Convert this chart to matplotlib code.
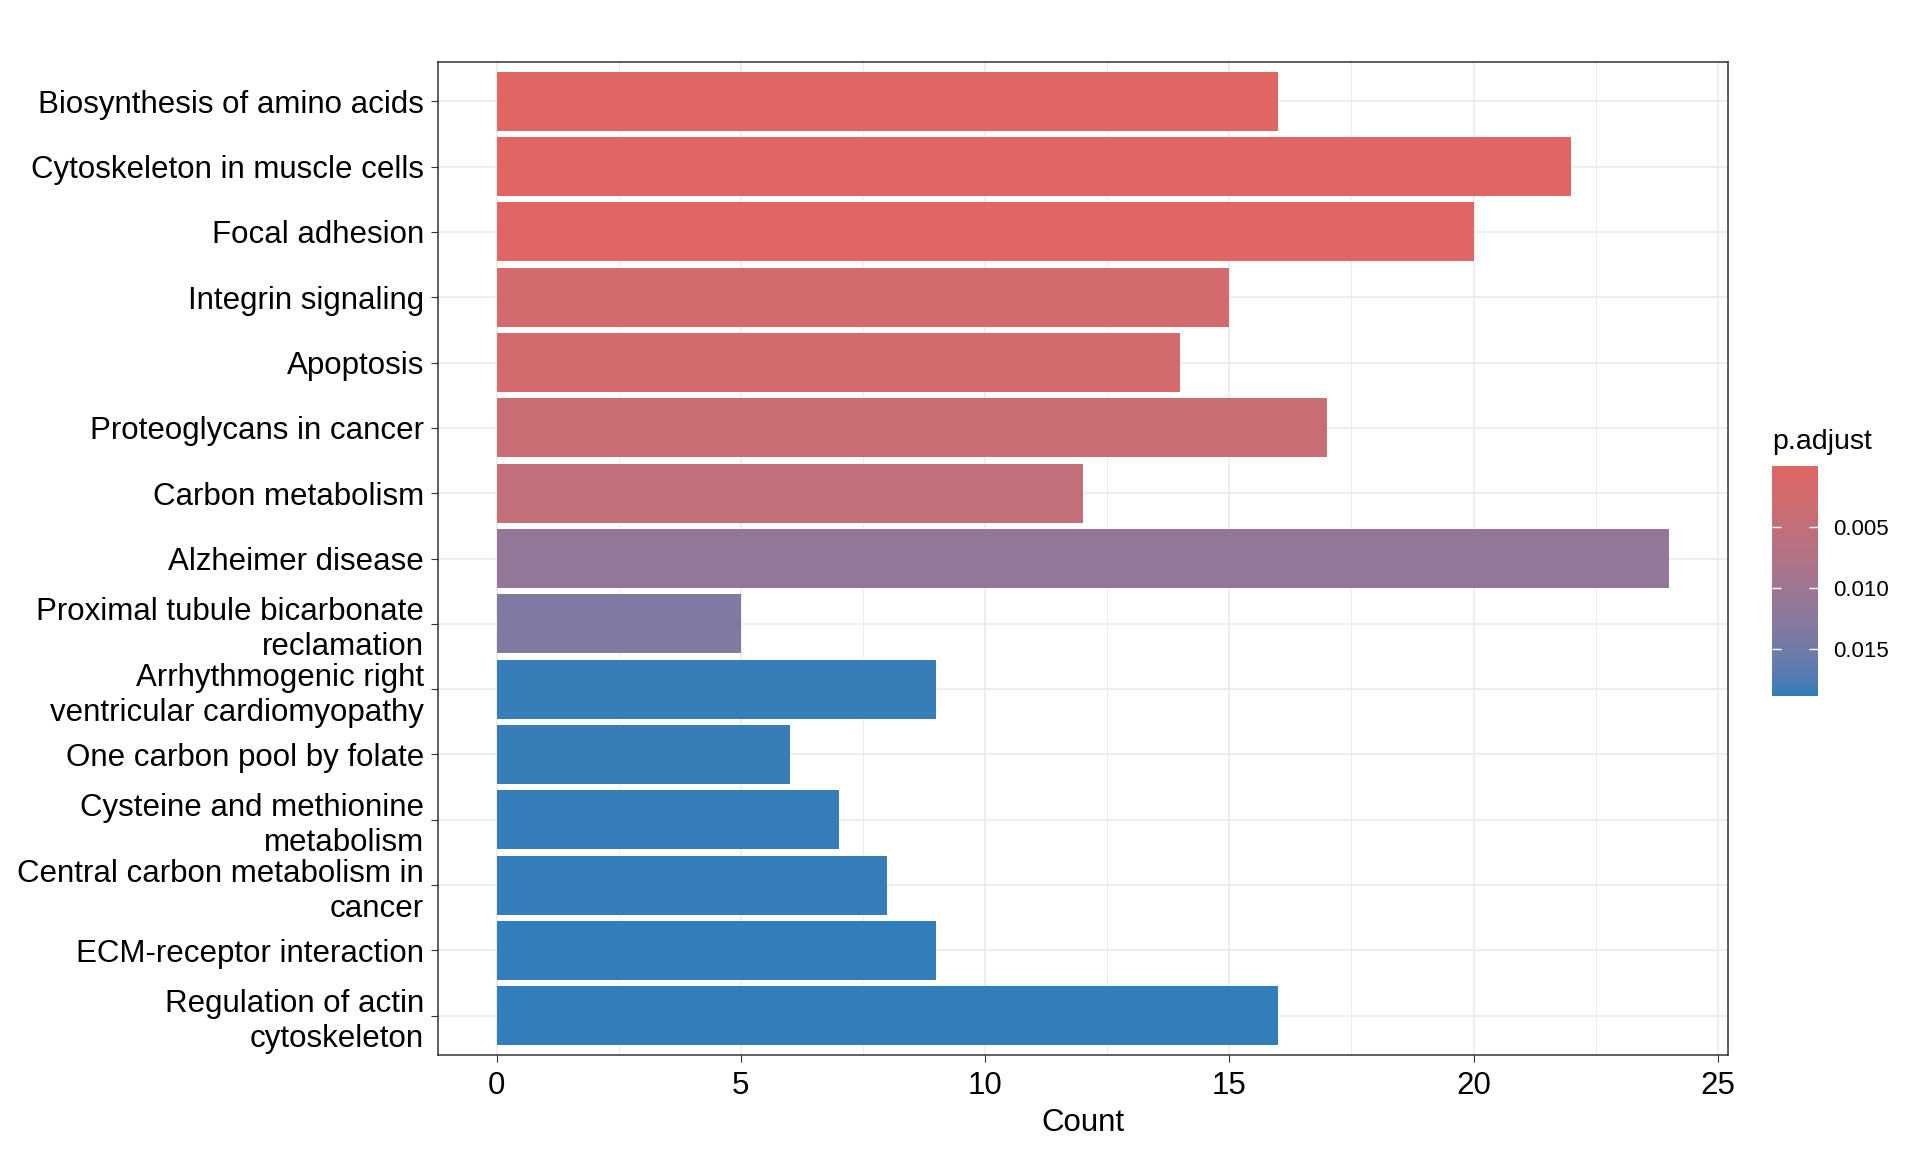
import numpy as np
import matplotlib
matplotlib.use("Agg")
import matplotlib.pyplot as plt

plt.rcParams['font.family'] = ['Liberation Sans', 'DejaVu Sans']

# ---------------- data (top to bottom) ----------------
terms = [
    "Biosynthesis of amino acids",
    "Cytoskeleton in muscle cells",
    "Focal adhesion",
    "Integrin signaling",
    "Apoptosis",
    "Proteoglycans in cancer",
    "Carbon metabolism",
    "Alzheimer disease",
    "Proximal tubule bicarbonate\nreclamation",
    "Arrhythmogenic right\nventricular cardiomyopathy",
    "One carbon pool by folate",
    "Cysteine and methionine\nmetabolism",
    "Central carbon metabolism in\ncancer",
    "ECM-receptor interaction",
    "Regulation of actin\ncytoskeleton",
]
counts = [16, 22, 20, 15, 14, 17, 12, 24, 5, 9, 6, 7, 8, 9, 16]
p_adjust = [0.00002, 0.00009, 0.00015, 0.0022, 0.0023, 0.0038, 0.0050,
            0.0114, 0.0134, 0.0186, 0.0186, 0.0187, 0.0187, 0.0188, 0.0188]
x_ticks = [0, 5, 10, 15, 20, 25]
x_minor = [2.5, 7.5, 12.5, 17.5, 22.5]
cbar_ticks = [0.005, 0.010, 0.015]
low_col = "#e06663"
high_col = "#327eba"

# ---------------- Lab gradient (like ggplot2) ----------------
M = np.array([[0.4124, 0.3576, 0.1805],
              [0.2126, 0.7152, 0.0722],
              [0.0193, 0.1192, 0.9505]])
Minv = np.linalg.inv(M)
WHITE = np.array([0.95047, 1.0, 1.08883])

def hex2rgb(h):
    h = h.lstrip('#')
    return np.array([int(h[i:i + 2], 16) / 255 for i in (0, 2, 4)])

def rgb2lab(rgb):
    lin = np.where(rgb <= 0.04045, rgb / 12.92, ((rgb + 0.055) / 1.055) ** 2.4)
    xyz = M @ lin / WHITE
    d = 6 / 29
    f = np.where(xyz > d ** 3, np.cbrt(xyz), xyz / (3 * d * d) + 4 / 29)
    return np.array([116 * f[1] - 16, 500 * (f[0] - f[1]), 200 * (f[1] - f[2])])

def lab2rgb(lab):
    L, a, b = lab
    fy = (L + 16) / 116
    fx = fy + a / 500
    fz = fy - b / 200
    d = 6 / 29
    f = np.array([fx, fy, fz])
    xyz = np.where(f > d, f ** 3, 3 * d * d * (f - 4 / 29)) * WHITE
    lin = Minv @ xyz
    lin = np.clip(lin, 0, 1)
    rgb = np.where(lin <= 0.0031308, 12.92 * lin, 1.055 * lin ** (1 / 2.4) - 0.055)
    return np.clip(rgb, 0, 1)

lab_lo = rgb2lab(hex2rgb(low_col))
lab_hi = rgb2lab(hex2rgb(high_col))
pmin, pmax = min(p_adjust), max(p_adjust)

def pal(v):
    t = (v - pmin) / (pmax - pmin)
    return lab2rgb(lab_lo + t * (lab_hi - lab_lo))

colors = [pal(v) for v in p_adjust]

# ---------------- figure ----------------
W, H = 1920, 1152
fig = plt.figure(figsize=(W / 100, H / 100), dpi=100)
ax = fig.add_axes([438 / W, 1 - 1055 / H, (1727.5 - 438) / W, (1055 - 62) / H])

n = len(terms)
ypos = np.arange(n, 0, -1)
ax.barh(ypos, counts, height=0.9, color=colors, zorder=2)
ax.set_xlim(-1.2, 25.2)
ax.set_ylim(0.4, n + 0.6)
ax.set_xticks(x_ticks)
ax.set_xticks(x_minor, minor=True)
ax.set_yticks(ypos)
ax.set_yticklabels(terms, linespacing=1.22)
ax.set_axisbelow(True)
ax.grid(which='major', color='#EBEBEB', lw=1.2, zorder=0)
ax.grid(which='minor', axis='x', color='#EBEBEB', lw=0.7, zorder=0)
ax.tick_params(which='minor', length=0)
ax.tick_params(which='major', length=5, width=0.8, color='#333333',
               labelsize=22.5, labelcolor='black')
ax.tick_params(axis='x', pad=6.5)
ax.tick_params(axis='y', pad=5)
for s in ax.spines.values():
    s.set_color('#333333')
    s.set_linewidth(1.1)
ax.set_xlabel('Count', fontsize=22.5, labelpad=5)

# ---------------- colour bar ----------------
cax = fig.add_axes([1772 / W, 1 - 696 / H, 46 / W, 230 / H])
vals = np.linspace(pmin, pmax, 300)
img = np.array([pal(v) for v in vals])[:, None, :]
cax.imshow(img, aspect='auto', extent=[0, 1, pmin, pmax], origin='lower',
           interpolation='bilinear')
cax.set_xlim(0, 1)
cax.set_ylim(pmax, pmin)
cax.hlines(cbar_ticks, 0, 0.2, color='white', lw=1)
cax.hlines(cbar_ticks, 0.8, 1, color='white', lw=1)
cax.set_xticks([])
cax.yaxis.tick_right()
cax.set_yticks(cbar_ticks)
cax.set_yticklabels([f"{t:.3f}" for t in cbar_ticks])
cax.tick_params(axis='y', length=0, pad=11, labelsize=16, labelcolor='black')
for s in cax.spines.values():
    s.set_visible(False)
fig.text(1772 / W, 1 - 449 / H, 'p.adjust', fontsize=20.5, ha='left', va='baseline')

fig.savefig('out.png', dpi=100, facecolor='white')
